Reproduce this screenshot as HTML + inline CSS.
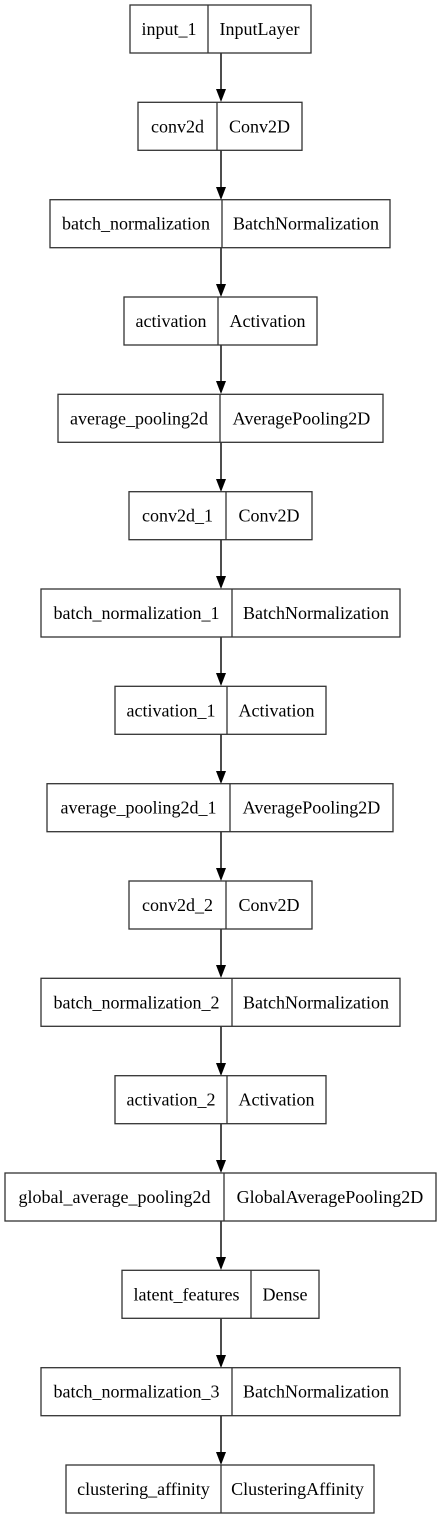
<!DOCTYPE html>
<html><head><meta charset="utf-8"><style>
html,body{margin:0;padding:0;background:#fff;}
svg{display:block;}
text{font-family:"Liberation Serif",serif;font-size:18px;fill:#000;text-anchor:middle;}
rect{fill:#fff;stroke:#333;stroke-width:1.3;}
.d{stroke:#333;stroke-width:1.3;}
.e{stroke:#000;stroke-width:1.4;}
.h{fill:#000;}
</style></head><body>
<svg width="441" height="1520" viewBox="0 0 441 1520">
<g>
<line class="e" x1="221" y1="53" x2="221" y2="89"/><polygon class="h" points="216,89 226,89 221,102"/>
<line class="e" x1="221" y1="150" x2="221" y2="187"/><polygon class="h" points="216,187 226,187 221,200"/>
<line class="e" x1="221" y1="248" x2="221" y2="284"/><polygon class="h" points="216,284 226,284 221,297"/>
<line class="e" x1="221" y1="345" x2="221" y2="381"/><polygon class="h" points="216,381 226,381 221,394"/>
<line class="e" x1="221" y1="442" x2="221" y2="479"/><polygon class="h" points="216,479 226,479 221,492"/>
<line class="e" x1="221" y1="540" x2="221" y2="576"/><polygon class="h" points="216,576 226,576 221,589"/>
<line class="e" x1="221" y1="637" x2="221" y2="673"/><polygon class="h" points="216,673 226,673 221,686"/>
<line class="e" x1="221" y1="734" x2="221" y2="771"/><polygon class="h" points="216,771 226,771 221,784"/>
<line class="e" x1="221" y1="832" x2="221" y2="868"/><polygon class="h" points="216,868 226,868 221,881"/>
<line class="e" x1="221" y1="929" x2="221" y2="965"/><polygon class="h" points="216,965 226,965 221,978"/>
<line class="e" x1="221" y1="1026" x2="221" y2="1063"/><polygon class="h" points="216,1063 226,1063 221,1076"/>
<line class="e" x1="221" y1="1124" x2="221" y2="1160"/><polygon class="h" points="216,1160 226,1160 221,1173"/>
<line class="e" x1="221" y1="1221" x2="221" y2="1257"/><polygon class="h" points="216,1257 226,1257 221,1270"/>
<line class="e" x1="221" y1="1318" x2="221" y2="1355"/><polygon class="h" points="216,1355 226,1355 221,1368"/>
<line class="e" x1="221" y1="1416" x2="221" y2="1452"/><polygon class="h" points="216,1452 226,1452 221,1465"/>
</g>

<rect x="130" y="5" width="181" height="48"/><line class="d" x1="208" y1="5" x2="208" y2="53"/>
<text x="169" y="35">input_1</text><text x="259.5" y="35">InputLayer</text>

<rect x="138" y="102.3" width="164" height="48"/><line class="d" x1="217" y1="102.3" x2="217" y2="150.3"/>
<text x="177.5" y="132.3">conv2d</text><text x="259.5" y="132.3">Conv2D</text>

<rect x="50" y="199.7" width="340" height="48"/><line class="d" x1="222" y1="199.7" x2="222" y2="247.7"/>
<text x="136" y="229.7">batch_normalization</text><text x="306" y="229.7">BatchNormalization</text>

<rect x="124" y="297" width="193" height="48"/><line class="d" x1="218" y1="297" x2="218" y2="345"/>
<text x="171" y="327">activation</text><text x="267.5" y="327">Activation</text>

<rect x="58" y="394.3" width="325" height="48"/><line class="d" x1="220" y1="394.3" x2="220" y2="442.3"/>
<text x="139" y="424.3">average_pooling2d</text><text x="301.5" y="424.3">AveragePooling2D</text>

<rect x="129" y="491.7" width="183" height="48"/><line class="d" x1="226" y1="491.7" x2="226" y2="539.7"/>
<text x="177.5" y="521.7">conv2d_1</text><text x="269" y="521.7">Conv2D</text>

<rect x="41" y="589" width="359" height="48"/><line class="d" x1="232" y1="589" x2="232" y2="637"/>
<text x="136.5" y="619">batch_normalization_1</text><text x="316" y="619">BatchNormalization</text>

<rect x="115" y="686.3" width="211" height="48"/><line class="d" x1="227" y1="686.3" x2="227" y2="734.3"/>
<text x="171" y="716.3">activation_1</text><text x="276.5" y="716.3">Activation</text>

<rect x="47" y="783.7" width="346" height="48"/><line class="d" x1="230" y1="783.7" x2="230" y2="831.7"/>
<text x="138.5" y="813.7">average_pooling2d_1</text><text x="311.5" y="813.7">AveragePooling2D</text>

<rect x="129" y="881" width="183" height="48"/><line class="d" x1="226" y1="881" x2="226" y2="929"/>
<text x="177.5" y="911">conv2d_2</text><text x="269" y="911">Conv2D</text>

<rect x="41" y="978.3" width="359" height="48"/><line class="d" x1="232" y1="978.3" x2="232" y2="1026.3"/>
<text x="136.5" y="1008.3">batch_normalization_2</text><text x="316" y="1008.3">BatchNormalization</text>

<rect x="115" y="1075.7" width="211" height="48"/><line class="d" x1="227" y1="1075.7" x2="227" y2="1123.7"/>
<text x="171" y="1105.7">activation_2</text><text x="276.5" y="1105.7">Activation</text>

<rect x="5" y="1173" width="431" height="48"/><line class="d" x1="224" y1="1173" x2="224" y2="1221"/>
<text x="114.5" y="1203">global_average_pooling2d</text><text x="330" y="1203">GlobalAveragePooling2D</text>

<rect x="122" y="1270.3" width="197" height="48"/><line class="d" x1="251" y1="1270.3" x2="251" y2="1318.3"/>
<text x="186.5" y="1300.3">latent_features</text><text x="285" y="1300.3">Dense</text>

<rect x="41" y="1367.7" width="359" height="48"/><line class="d" x1="232" y1="1367.7" x2="232" y2="1415.7"/>
<text x="136.5" y="1397.7">batch_normalization_3</text><text x="316" y="1397.7">BatchNormalization</text>

<rect x="66" y="1465" width="308" height="48"/><line class="d" x1="221" y1="1465" x2="221" y2="1513"/>
<text x="143.5" y="1495">clustering_affinity</text><text x="297.5" y="1495">ClusteringAffinity</text>
</svg>
</body></html>
